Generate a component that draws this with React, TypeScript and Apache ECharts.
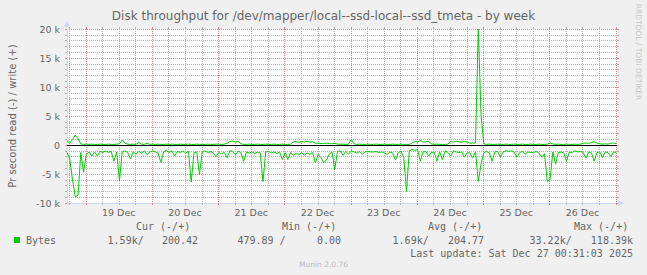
import React, { useEffect, useRef } from "react";
import * as echarts from "echarts";

const TITLE = "Disk throughput for /dev/mapper/local--ssd-local--ssd_tmeta - by week";
const Y_TITLE = "Pr second read (-) / write (+)";
const SERIES_NAME = "Bytes";
const LAST_UPDATE = "Last update: Sat Dec 27 00:31:03 2025";
const FOOTER = "Munin 2.0.76";
const WATERMARK = "RRDTOOL / TOBI OETIKER";

// Time axis in hours since Thu 19 Dec 2025 00:00; one sample per hour.
const X_MIN = -6.75;
const X_MAX = 192.5;
const FIRST_SAMPLE_HOUR = -6.75;
const SAMPLE_STEP_HOURS = 1;

// Read throughput (drawn below zero), thousands of bytes per second.
const readK = [
  -1.3, -2.4, -6.0, -8.9, -8.7, -1.3, -4.7, -1.6, -1.2, -1.9,
  -1.2, -1.9, -1.1, -1.3, -1.0, -1.3, -1.1, -2.8, -1.2, -6.2,
  -1.2, -1.0, -1.3, -2.4, -1.2, -1.6, -1.1, -1.4, -1.0, -1.7,
  -1.2, -1.0, -1.2, -1.4, -3.0, -1.2, -0.9, -1.3, -1.0, -1.9,
  -1.1, -1.3, -1.0, -1.4, -1.1, -6.4, -1.3, -1.2, -5.1, -1.2,
  -1.0, -1.3, -1.1, -1.4, -2.0, -1.3, -1.5, -1.3, -2.2, -1.0,
  -1.1, -1.7, -1.1, -1.3, -2.8, -1.2, -1.4, -1.2, -1.5, -1.2,
  -1.4, -6.3, -1.2, -1.1, -1.4, -1.2, -1.5, -1.2, -2.5, -1.3,
  -2.5, -1.3, -1.8, -1.4, -1.7, -1.3, -1.8, -1.4, -1.6, -1.3,
  -3.1, -1.6, -2.2, -3.0, -2.6, -1.6, -1.2, -4.2, -1.1, -1.0,
  -1.8, -1.1, -1.6, -1.0, -1.2, -1.4, -1.1, -1.6, -1.2, -1.1,
  -1.2, -1.2, -1.1, -1.3, -1.2, -1.4, -1.6, -1.2, -1.4, -2.6,
  -1.3, -1.1, -2.2, -8.0, -1.0, -0.8, -0.9, -0.8, -2.8, -1.2,
  -1.1, -1.9, -1.3, -1.2, -2.8, -1.2, -2.5, -1.0, -1.3, -1.9,
  -1.0, -1.2, -1.3, -1.2, -2.1, -1.3, -1.4, -2.2, -1.2, -6.3,
  -3.3, -1.3, -1.1, -1.4, -2.8, -1.2, -1.1, -2.1, -1.2, -1.0,
  -1.1, -1.0, -1.2, -2.1, -1.3, -1.1, -1.6, -1.2, -1.3, -1.3,
  -1.1, -1.4, -2.1, -1.5, -6.3, -6.0, -1.2, -3.3, -1.3, -1.2,
  -1.4, -2.8, -1.2, -1.3, -1.0, -1.2, -1.1, -1.3, -2.3, -1.2,
  -1.4, -2.8, -1.3, -1.2, -2.2, -1.2, -1.3, -2.0, -1.2, -1.3,
];

// Write throughput (drawn above zero), thousands of bytes per second.
const writeK = [
  0.7, 0.35, 0.9, 1.7, 1.1, 0.2, 0.1, 0.15, 0.1, 0.15,
  0.1, 0.1, 0.15, 0.1, 0.1, 0.15, 0.1, 0.1, 0.15, 0.2,
  0.85, 0.3, 0.15, 0.1, 0.15, 0.1, 0.45, 0.15, 0.1, 0.3,
  0.1, 0.15, 0.1, 0.15, 0.1, 0.1, 0.15, 0.1, 0.15, 0.1,
  0.1, 0.15, 0.1, 0.1, 0.15, 0.1, 0.1, 0.15, 0.1, 0.1,
  0.1, 0.15, 0.1, 0.1, 0.15, 0.15, 0.1, 0.15, 0.3, 0.6,
  0.7, 0.5, 0.6, 0.2, 0.1, 0.1, 0.15, 0.1, 0.1, 0.15,
  0.1, 0.1, 0.15, 0.1, 0.1, 0.15, 0.1, 0.1, 0.15, 0.1,
  0.1, 0.15, 0.55, 0.6, 0.45, 0.6, 0.5, 0.65, 0.5, 0.55,
  0.3, 0.3, 0.25, 0.3, 0.3, 0.25, 0.2, 0.3, 0.15, 0.1,
  0.15, 0.1, 0.15, 0.95, 0.2, 0.1, 0.15, 0.1, 0.1, 0.15,
  0.1, 0.1, 0.15, 0.1, 0.1, 0.15, 0.1, 0.1, 0.15, 0.1,
  0.1, 0.15, 0.1, 0.1, 0.1, 0.35, 0.6, 0.5, 0.8, 0.5,
  0.55, 0.6, 0.2, 0.1, 0.15, 0.1, 0.1, 0.1, 0.15, 0.6,
  0.5, 0.65, 0.55, 0.45, 0.6, 0.5, 0.3, 0.35, 0.35, 20,
  5.2, 0.2, 0.1, 0.15, 0.1, 0.1, 0.15, 0.1, 0.1, 0.15,
  0.1, 0.1, 0.15, 0.1, 0.1, 0.15, 0.1, 0.1, 0.15, 0.1,
  0.1, 0.15, 0.1, 0.1, 0.15, 0.35, 0.2, 0.1, 0.15, 0.1,
  0.1, 0.15, 0.1, 0.1, 0.15, 0.1, 0.15, 0.3, 0.35, 0.3,
  0.4, 0.6, 0.3, 0.2, 0.15, 0.2, 0.15, 0.3, 0.35, 0.2,
];

const dayLabels = ["19 Dec", "20 Dec", "21 Dec", "22 Dec", "23 Dec", "24 Dec", "25 Dec", "26 Dec"];
const dayLabelHours = [12, 36, 60, 84, 108, 132, 156, 180];

const yTicks = [-10, -5, 0, 5, 10, 15, 20];
const yTickLabels = ["-10 k", "-5 k", "0", "5 k", "10 k", "15 k", "20 k"];

const statHeaders = ["Cur (-/+)", "Min (-/+)", "Avg (-/+)", "Max (-/+)"];
const readStats = ["1.59k", "479.89 ", "1.69k", "33.22k"];
const writeStats = ["200.42", "0.00", "204.77", "118.39k"];

const LINE_COLOR = "#00CC00";
const FONT_COLOR = "#666666";
const AXIS_COLOR = "#CFD6F8";
const MAJOR_GRID = "#E38A8A";
const MINOR_GRID = "#B4B4B4";
const SANS = "DejaVu Sans";
const MONO = "DejaVu Sans Mono";

export default function App() {
  const ref = useRef<HTMLDivElement>(null);

  useEffect(() => {
    document.body.style.margin = "0";
    document.body.style.background = "#F0F0F0";
    const chart = echarts.init(ref.current!, null, { renderer: "svg" });

    const hours = readK.map((_, i) => FIRST_SAMPLE_HOUR + i * SAMPLE_STEP_HOURS);
    const readData = hours.map((h, i) => [h, readK[i]]);
    const writeData = hours.map((h, i) => [h, writeK[i]]);

    const gridHours: number[][] = [];
    for (let h = -6; h <= X_MAX; h += 6) gridHours.push([h, 0]);

    const headerLeft = [136, 282, 428, 574];
    const readRight = [143.7, 285.6, 428.7, 571.7];
    const writeRight = [198, 341, 484, 633];

    const legendTexts: any[] = [];
    statHeaders.forEach((t, i) => {
      legendTexts.push({
        type: "text", x: headerLeft[i], y: 226,
        style: { text: t, fill: FONT_COLOR, fontFamily: MONO, fontSize: 10, align: "left", verticalAlign: "middle" },
      });
      legendTexts.push({
        type: "text", x: readRight[i], y: 240,
        style: { text: readStats[i] + "/", fill: FONT_COLOR, fontFamily: MONO, fontSize: 10, align: "right", verticalAlign: "middle" },
      });
      legendTexts.push({
        type: "text", x: writeRight[i], y: 240,
        style: { text: writeStats[i], fill: FONT_COLOR, fontFamily: MONO, fontSize: 10, align: "right", verticalAlign: "middle" },
      });
    });

    const option: any = {
      animation: false,
      backgroundColor: "#F0F0F0",
      grid: {
        left: 67, right: 30, top: 29, bottom: 72,
        show: true, backgroundColor: "#FFFFFF", borderWidth: 0,
      },
      xAxis: [
        {
          type: "value", min: X_MIN, max: X_MAX, position: "bottom",
          axisLine: {
            show: true, onZero: false, lineStyle: { color: AXIS_COLOR, width: 1 },
            symbol: ["none", "triangle"], symbolSize: [6, 6], symbolOffset: [0, 4],
          },
          axisTick: { show: false },
          splitLine: { show: false },
          axisLabel: {
            customValues: dayLabelHours,
            formatter: (v: number) => {
              const i = dayLabelHours.indexOf(v);
              return i >= 0 ? dayLabels[i] : "";
            },
            color: FONT_COLOR, fontFamily: SANS, fontSize: 9.5, margin: 4,
          },
        },
      ],
      yAxis: [
        {
          type: "value", min: -10, max: 20, interval: 5, position: "left",
          axisLine: {
            show: true, onZero: false, lineStyle: { color: AXIS_COLOR, width: 1 },
            symbol: ["none", "triangle"], symbolSize: [6, 6], symbolOffset: [0, 5],
          },
          axisTick: { show: true, length: 2, lineStyle: { color: MAJOR_GRID } },
          minorTick: { show: true, splitNumber: 5, length: 2, lineStyle: { color: MINOR_GRID } },
          splitLine: { show: true, lineStyle: { color: MAJOR_GRID, type: [1, 1] } },
          minorSplitLine: { show: true, lineStyle: { color: MINOR_GRID, type: [1, 1] } },
          axisLabel: {
            formatter: (v: number) => {
              const i = yTicks.indexOf(v);
              return i >= 0 ? yTickLabels[i] : "";
            },
            color: FONT_COLOR, fontFamily: SANS, fontSize: 9.5, margin: 7,
          },
        },
        {
          type: "value", min: -10, max: 20, interval: 5, position: "right",
          axisLine: { show: false, onZero: false },
          axisLabel: { show: false },
          splitLine: { show: false },
          axisTick: { show: true, length: 2, lineStyle: { color: MAJOR_GRID } },
          minorTick: { show: true, splitNumber: 5, length: 2, lineStyle: { color: MINOR_GRID } },
        },
      ],
      series: [
        {
          type: "custom",
          name: "vgrid",
          coordinateSystem: "cartesian2d",
          clip: false,
          silent: true,
          z: 1,
          data: gridHours,
          encode: { x: 0, y: 1 },
          renderItem: (params: any, api: any) => {
            const h = api.value(0);
            const major = h % 24 === 0;
            const cs = params.coordSys;
            const x = Math.round(api.coord([h, 0])[0]) + 0.5;
            const color = major ? MAJOR_GRID : MINOR_GRID;
            return {
              type: "group",
              children: [
                { type: "line", shape: { x1: x, y1: cs.y, x2: x, y2: cs.y + cs.height }, style: { stroke: color, lineWidth: 1, lineDash: [1, 1] } },
                { type: "line", shape: { x1: x, y1: cs.y - 2, x2: x, y2: cs.y }, style: { stroke: color, lineWidth: 1 } },
                { type: "line", shape: { x1: x, y1: cs.y + cs.height, x2: x, y2: cs.y + cs.height + 2 }, style: { stroke: color, lineWidth: 1 } },
              ],
            };
          },
        },
        {
          type: "custom",
          name: "zero",
          coordinateSystem: "cartesian2d",
          silent: true,
          z: 2,
          data: [[0, 0]],
          encode: { x: 0, y: 1 },
          renderItem: (params: any, api: any) => {
            const cs = params.coordSys;
            const y = Math.round(api.coord([0, api.value(1)])[1]) + 0.5;
            return {
              type: "line",
              shape: { x1: cs.x, y1: y, x2: cs.x + cs.width, y2: y },
              style: { stroke: "#000000", lineWidth: 1 },
            };
          },
        },
        {
          type: "line", name: SERIES_NAME + " read", data: readData,
          showSymbol: false, symbol: "none", z: 3,
          lineStyle: { color: LINE_COLOR, width: 1 },
        },
        {
          type: "line", name: SERIES_NAME + " write", data: writeData,
          showSymbol: false, symbol: "none", z: 3,
          lineStyle: { color: LINE_COLOR, width: 1 },
        },
      ],
      graphic: [
        {
          type: "text", x: 323.5, y: 16,
          style: { text: TITLE, fill: FONT_COLOR, fontFamily: SANS, fontSize: 12, align: "center", verticalAlign: "middle" },
        },
        {
          type: "text", x: 12, y: 116, rotation: Math.PI / 2,
          style: { text: Y_TITLE, fill: FONT_COLOR, fontFamily: SANS, fontSize: 10, align: "center", verticalAlign: "middle" },
        },
        {
          type: "text", x: 638, y: 52, rotation: -Math.PI / 2,
          style: { text: WATERMARK, fill: "#C8C8C8", fontFamily: SANS, fontSize: 7.5, align: "center", verticalAlign: "middle" },
        },
        {
          type: "rect", shape: { x: 14, y: 237, width: 6, height: 6 },
          style: { fill: LINE_COLOR },
        },
        {
          type: "text", x: 26, y: 240,
          style: { text: SERIES_NAME, fill: FONT_COLOR, fontFamily: MONO, fontSize: 10, align: "left", verticalAlign: "middle" },
        },
        ...legendTexts,
        {
          type: "text", x: 633, y: 253,
          style: { text: LAST_UPDATE, fill: FONT_COLOR, fontFamily: MONO, fontSize: 10, align: "right", verticalAlign: "middle" },
        },
        {
          type: "text", x: 323.5, y: 264,
          style: { text: FOOTER, fill: "#BBBBBB", fontFamily: SANS, fontSize: 7.5, align: "center", verticalAlign: "middle" },
        },
      ],
    };

    chart.setOption(option);
    return () => chart.dispose();
  }, []);

  return <div ref={ref} style={{ width: 647, height: 275 }} />;
}
